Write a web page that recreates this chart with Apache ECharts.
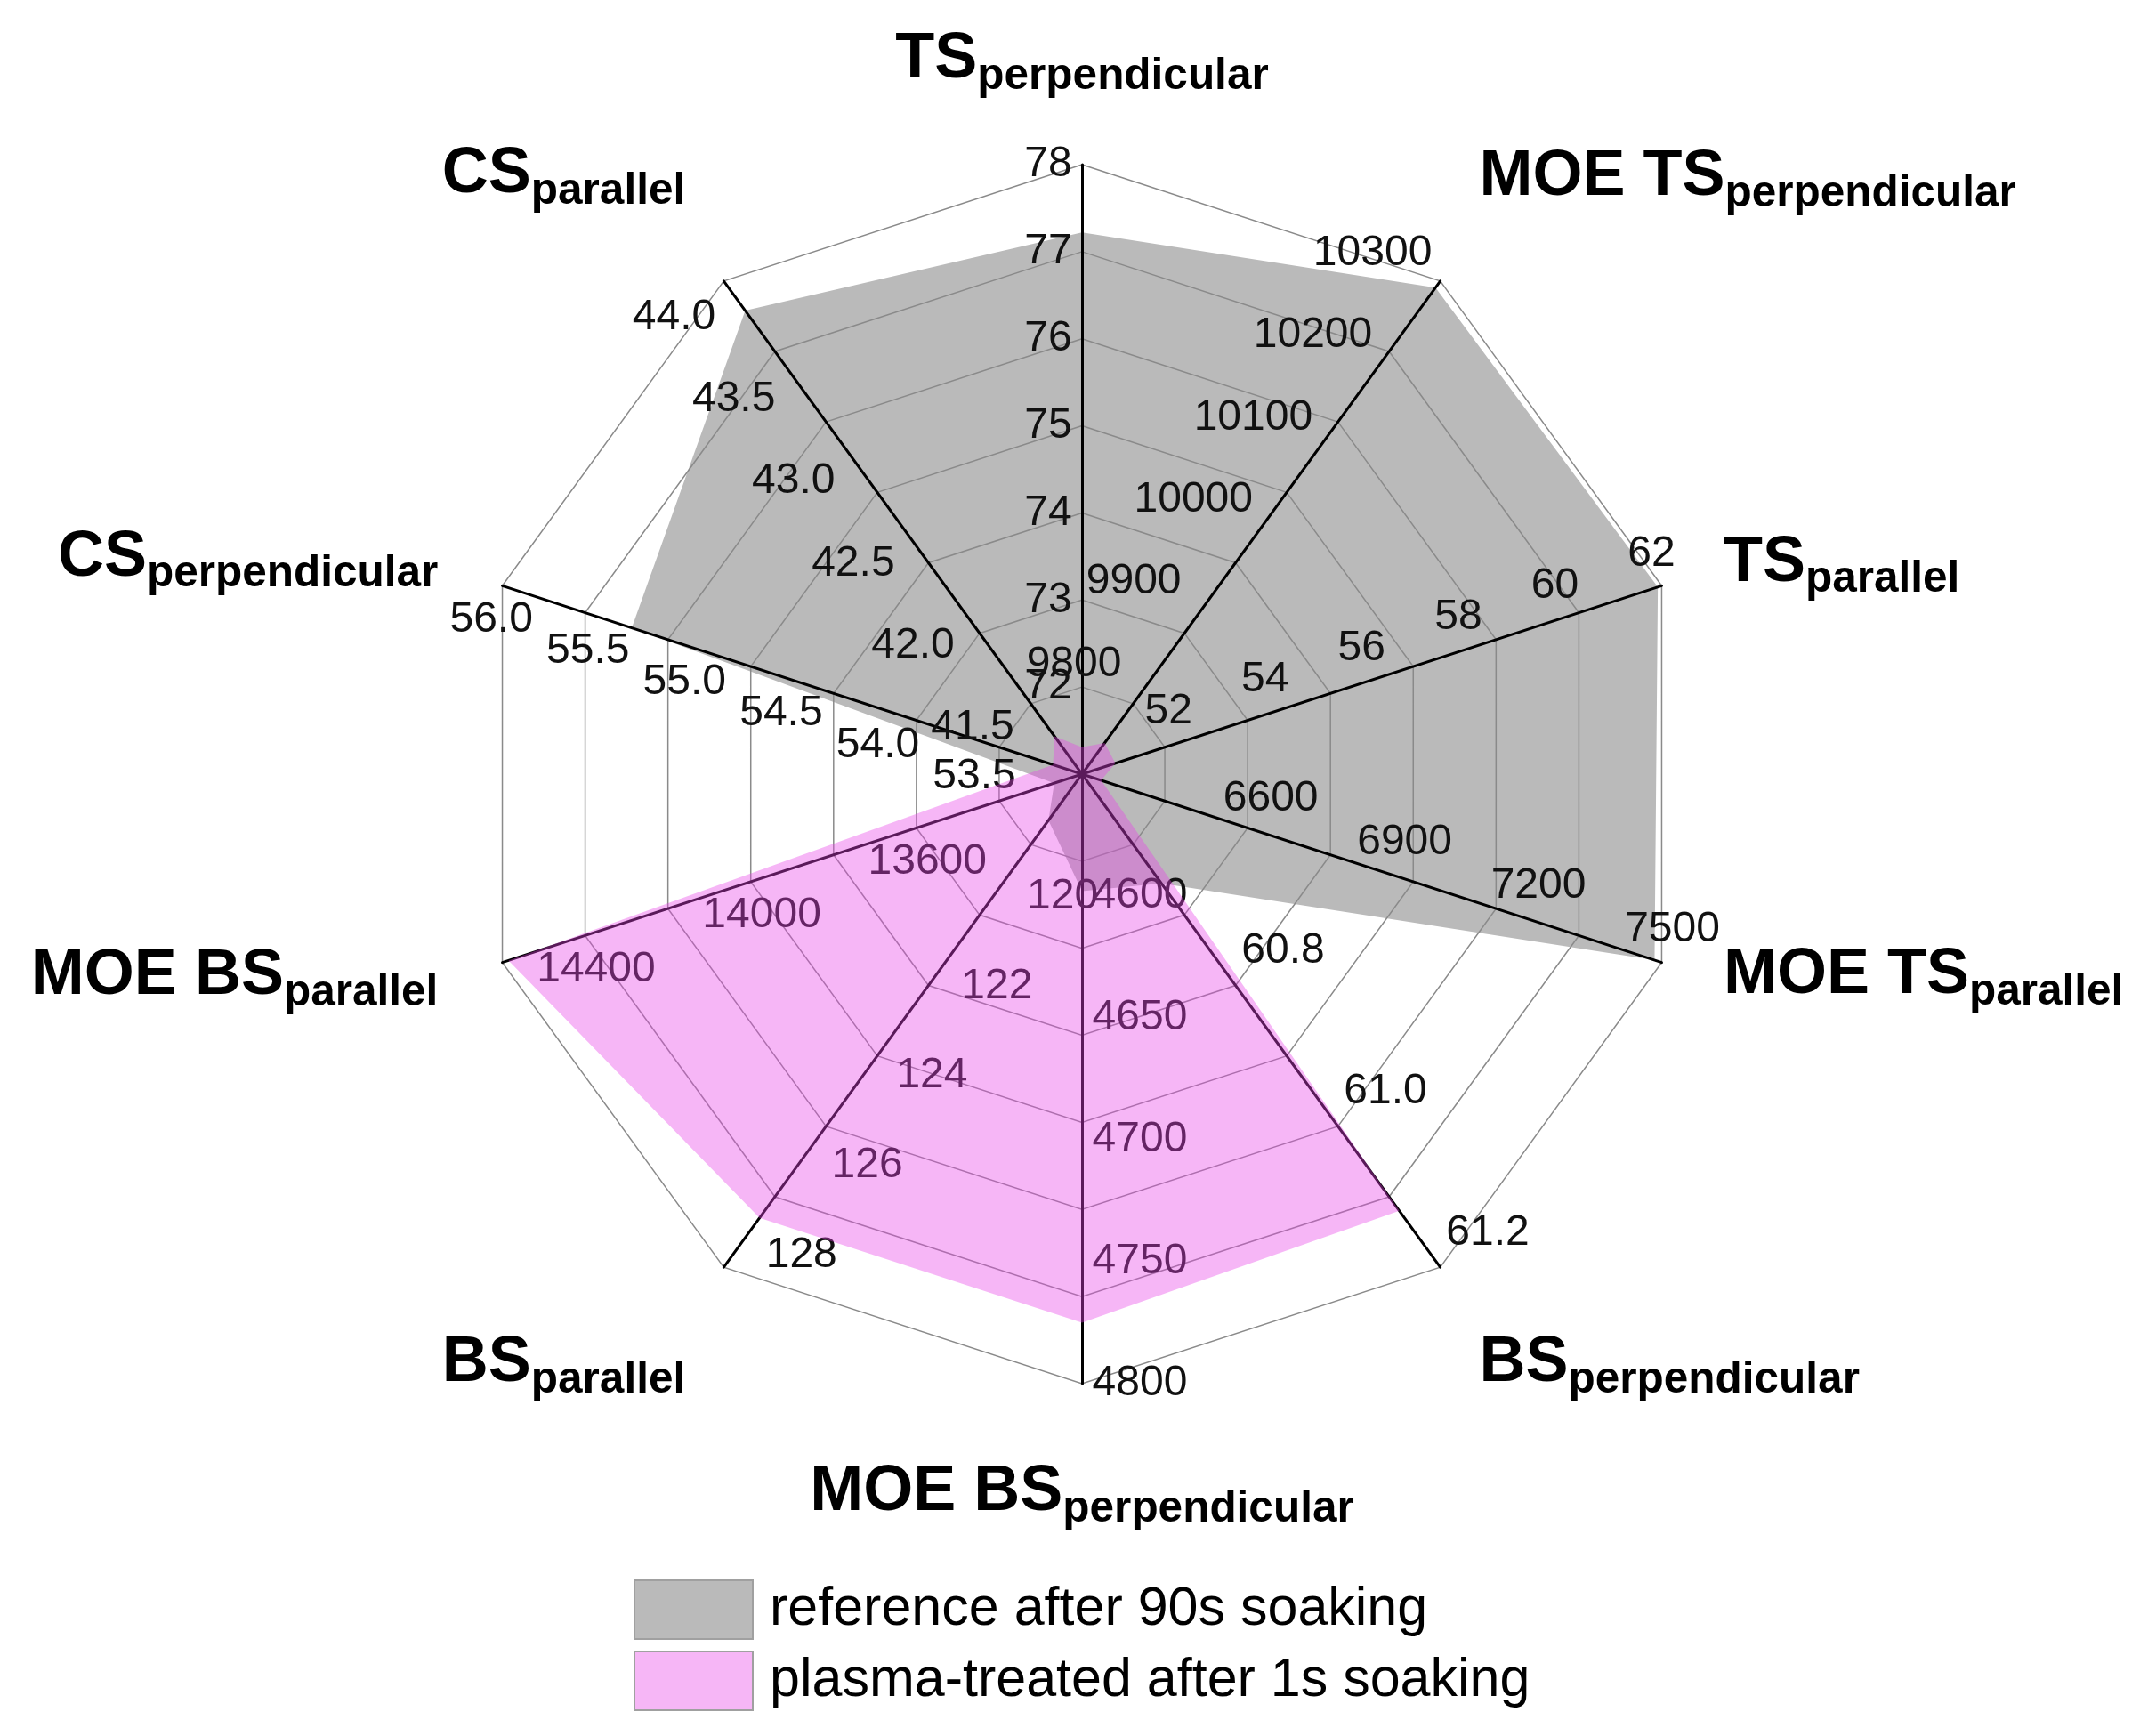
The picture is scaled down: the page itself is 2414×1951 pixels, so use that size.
<!DOCTYPE html>
<html><head><meta charset="utf-8">
<script src="https://cdn.jsdelivr.net/npm/echarts@6/dist/echarts.min.js"></script>
<style>html,body{margin:0;padding:0;background:#fff}#c{width:2414px;height:1951px}</style>
</head><body><div id="c"></div>
<script>
// Axes listed counter-clockwise from the top (ECharts radar order)
const axisMain = ['TS','CS','CS','MOE BS','BS','MOE BS','BS','MOE TS','TS','MOE TS'];
const axisSub = ['perpendicular','parallel','perpendicular','parallel','parallel','perpendicular','perpendicular','parallel','parallel','perpendicular'];
const axisMin = [71, 41, 53, 13200, 118, 4550, 60.5, 6200, 50, 9700];
const axisMax = [78, 44, 56, 14600, 129, 4800, 61.2, 7500, 62, 10300];
const tickLabels = [
  [72, 73, 74, 75, 76, 77, 78],
  [41.5, 42.0, 42.5, 43.0, 43.5, 44.0],
  [53.5, 54.0, 54.5, 55.0, 55.5, 56.0],
  [13600, 14000, 14400],
  [120, 122, 124, 126, 128],
  [4600, 4650, 4700, 4750, 4800],
  [60.8, 61.0, 61.2],
  [6600, 6900, 7200, 7500],
  [52, 54, 56, 58, 60, 62],
  [9800, 9900, 10000, 10100, 10200, 10300]
];
const labelDecimals = [0, 1, 1, 0, 0, 0, 1, 0, 0, 0];
const seriesNames = ['reference after 90s soaking', 'plasma-treated after 1s soaking'];
const referenceValues = [77.22, 43.82, 55.33, 13267, 119.03, 4598, 60.655, 7484, 61.92, 10292];
const plasmaValues = [71.31, 41.23, 53.15, 14585, 127.9, 4775, 61.12, 6243, 50.69, 9738];

// ---- layout / style (not data) ----
const C = [1216, 870], R = 685;
const FONT = 'Liberation Sans, Arial, Helvetica, sans-serif';
const LABEL_SPLIT = 420;
const nameGap = [74, 73.5, 76, 76, 73.5, 84, 74.7, 73, 73, 74.7];
const namePad = [[0,0,0,0],[0,0,115,0],[0,0,10,0],[0,0,10,0],[104,0,0,0],[0,0,0,0],[102,0,0,0],[0,0,10,0],[0,0,0,0],[0,0,106,0]];
const labelMargin = [38, 69, 40, 40, 63, 65, 66, 39, 37, 94];
const labelVAlign = ['middle','middle','middle','middle','middle','middle','middle','middle','middle','top'];
const GREY = '#bababa', PINK = 'rgba(231,67,231,0.39)';

const gridIndicators = axisMain.map((m, i) => ({
  name: m + '|' + axisSub[i], min: axisMin[i], max: axisMax[i],
  nameGap: nameGap[i], nameTextStyle: { padding: namePad[i] }
}));
const labelIndicators = axisMain.map((m, i) => {
  const step = (axisMax[i] - axisMin[i]) / LABEL_SPLIT;
  return {
    name: m, min: axisMin[i], max: axisMax[i],
    axisLabel: {
      margin: labelMargin[i], verticalAlign: labelVAlign[i],
      formatter: function (v) {
        for (const t of tickLabels[i]) {
          if (Math.abs(v - t) < step / 2 + 1e-9) return t.toFixed(labelDecimals[i]);
        }
        return '';
      }
    }
  };
});

const chart = echarts.init(document.getElementById('c'), null, { renderer: 'canvas' });
chart.setOption({
  backgroundColor: '#ffffff',
  animation: false,
  legend: {
    orient: 'vertical', left: 707, top: 1770, itemWidth: 133, itemHeight: 66, itemGap: 12,
    icon: 'rect', selectedMode: false, data: seriesNames,
    itemStyle: { borderColor: '#a0a0a0', borderWidth: 2 },
    textStyle: { fontSize: 61, color: '#000', fontFamily: FONT, padding: [0, 0, 0, 14] }
  },
  radar: [
    {
      center: C, radius: R, startAngle: 90, splitNumber: 7, shape: 'polygon', z: 2,
      indicator: gridIndicators,
      axisName: {
        show: true, color: '#000', fontFamily: FONT,
        formatter: function (name) { const p = name.split('|'); return '{a|' + p[0] + '}{b|' + p[1] + '}'; },
        rich: {
          a: { fontSize: 72, fontWeight: 'bold', fontFamily: FONT, color: '#000', lineHeight: 82, verticalAlign: 'bottom', padding: [0, 0, 8, 0] },
          b: { fontSize: 49.5, fontWeight: 'bold', fontFamily: FONT, color: '#000', lineHeight: 49, verticalAlign: 'bottom' }
        }
      },
      axisLine: { lineStyle: { color: '#000', width: 3 } },
      splitLine: { lineStyle: { color: '#8a8a8a', width: 1.5 } },
      splitArea: { show: false }, axisLabel: { show: false }, axisTick: { show: false }
    },
    {
      center: C, radius: R, startAngle: 90, splitNumber: LABEL_SPLIT, shape: 'polygon', z: 2,
      indicator: labelIndicators,
      axisName: { show: false },
      axisLine: { show: false }, splitLine: { show: false }, splitArea: { show: false }, axisTick: { show: false },
      axisLabel: { show: true, fontSize: 48, color: '#111', fontFamily: FONT, align: 'center', verticalAlign: 'middle', showMinLabel: true, showMaxLabel: true }
    }
  ],
  series: [
    {
      name: seriesNames[0], type: 'radar', radarIndex: 0, z: 1, symbol: 'none', silent: true, color: GREY,
      lineStyle: { width: 0, opacity: 0 }, areaStyle: { color: GREY, opacity: 1 },
      data: [{ value: referenceValues, name: seriesNames[0] }]
    },
    {
      name: seriesNames[1], type: 'radar', radarIndex: 0, z: 3, symbol: 'none', silent: true, color: PINK,
      lineStyle: { width: 0, opacity: 0 }, areaStyle: { color: PINK, opacity: 1 },
      data: [{ value: plasmaValues, name: seriesNames[1] }]
    }
  ]
});
</script></body></html>
